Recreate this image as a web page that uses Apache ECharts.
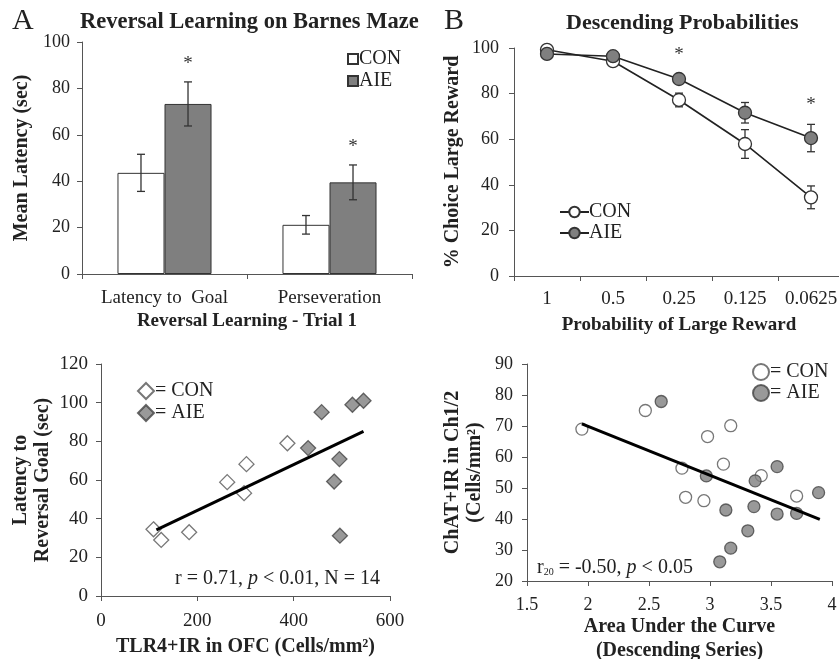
<!DOCTYPE html>
<html>
<head>
<meta charset="utf-8">
<script src="https://cdn.jsdelivr.net/npm/echarts@6/dist/echarts.min.js"></script>
<style>html,body{margin:0;padding:0;background:#fff}#c{width:839px;height:659px}</style>
</head>
<body>
<div id="c"></div>
<script>
// ---- Panel A: bar chart ----
const catsA = ['Latency to  Goal', 'Perseveration'];
const conA = [43.6, 21.2];
const conErrA = [8, 4];
const aieA = [73.3, 39.5];
const aieErrA = [9.5, 7.5];
const starsA = [1, 1];

// ---- Panel B: line chart ----
const catsB = ['1', '0.5', '0.25', '0.125', '0.0625'];
const conB = [99.2, 94.2, 77.2, 57.9, 34.5];
const conErrB = [1, 1.5, 3, 6.3, 5];
const aieB = [97.4, 96.4, 86.4, 71.6, 60.5];
const aieErrB = [1, 1, 2, 4.5, 6];
const starsB = [0, 0, 1, 0, 1];

// ---- Panel C: scatter ----
const conC = [[109, 34.5], [125, 29], [183, 33], [262, 58.9], [302, 68.2], [297, 53.2], [387, 79]];
const aieC = [[430, 76.5], [458, 95.1], [522, 98.9], [545, 101], [495, 70.8], [484, 59.2], [496, 31.2]];
const regC = [[115, 34.2], [545, 85.1]];

// ---- Panel D: scatter ----
const conD = [[1.95, 69], [2.47, 75], [2.98, 66.6], [3.17, 70.1], [2.77, 56.4], [3.11, 57.7], [3.42, 54], [2.80, 47], [2.95, 45.9], [3.71, 47.4]];
const aieD = [[2.60, 77.9], [2.97, 53.9], [3.55, 56.9], [3.37, 52.3], [3.89, 48.5], [3.13, 42.9], [3.36, 44], [3.55, 41.6], [3.71, 41.8], [3.31, 36.2], [3.17, 30.6], [3.08, 26.2]];
const regD = [[1.95, 70.7], [3.90, 39.9]];

const FONT = '"Liberation Serif", "Times New Roman", serif';
const TXT = '#222';
const AX = '#555';
const GRAY = '#7f7f7f';

function axisCommon() {
  return {
    axisLine: { show: true, lineStyle: { color: AX, width: 1 } },
    axisTick: { show: true, length: 5, lineStyle: { color: AX } },
    splitLine: { show: false },
    axisLabel: { color: TXT, fontFamily: FONT, fontSize: 18 },
    nameTextStyle: { color: TXT, fontFamily: FONT, fontSize: 20, fontWeight: 'bold' }
  };
}
function merge(a, b) {
  const o = Object.assign({}, a);
  for (const k in b) {
    if (b[k] && typeof b[k] === 'object' && !Array.isArray(b[k]) && a[k]) o[k] = Object.assign({}, a[k], b[k]);
    else o[k] = b[k];
  }
  return o;
}

function errBar(sideFrac, capHalf, stars, starGap) {
  return function (params, api) {
    const x = api.value(0), y = api.value(1), e = api.value(2);
    const catW = api.size([1, 0])[0];
    const off = sideFrac * catW;
    const top = api.coord([x, y + e]);
    const bot = api.coord([x, y - e]);
    const cx = top[0] + off;
    const st = { stroke: '#333', lineWidth: 1.3 };
    const children = [
      { type: 'line', shape: { x1: cx, y1: top[1], x2: cx, y2: bot[1] }, style: st },
      { type: 'line', shape: { x1: cx - capHalf, y1: top[1], x2: cx + capHalf, y2: top[1] }, style: st },
      { type: 'line', shape: { x1: cx - capHalf, y1: bot[1], x2: cx + capHalf, y2: bot[1] }, style: st }
    ];
    if (stars && stars[params.dataIndex]) {
      children.push({ type: 'text', style: { text: '*', x: cx, y: top[1] - starGap, align: 'center', verticalAlign: 'middle', fontSize: 19, fontFamily: FONT, fill: '#333' } });
    }
    return { type: 'group', children: children };
  };
}

const barFrac = 0.285;
const legendText = { fontFamily: FONT, fontSize: 20, color: TXT };

const option = {
  animation: false,
  backgroundColor: '#fff',
  title: [
    { text: 'A', left: 12, top: 6, padding: 0, textStyle: { fontFamily: FONT, fontSize: 30, fontWeight: 'normal', color: TXT } },
    { text: 'Reversal Learning on Barnes Maze', left: 80, top: 11, padding: 0, textStyle: { fontFamily: FONT, fontSize: 22.5, fontWeight: 'bold', color: TXT } },
    { text: 'B', left: 444, top: 6, padding: 0, textStyle: { fontFamily: FONT, fontSize: 30, fontWeight: 'normal', color: TXT } },
    { text: 'Descending Probabilities', left: 566, top: 12, padding: 0, textStyle: { fontFamily: FONT, fontSize: 22, fontWeight: 'bold', color: TXT } }
  ],
  legend: [
    { data: ['A_CON', 'A_AIE'], orient: 'vertical', left: 347, top: 49, padding: 0, itemWidth: 10, itemHeight: 10, itemGap: 2, icon: 'rect',
      formatter: n => n.split('_')[1], textStyle: Object.assign({ padding: [0, 0, 0, -4] }, legendText), selectedMode: false },
    { data: ['B_CON', 'B_AIE'], orient: 'vertical', left: 559, top: 202, padding: 0, itemWidth: 29, itemHeight: 13, itemGap: 1,
      formatter: n => n.split('_')[1], textStyle: Object.assign({ padding: [0, 0, 0, -5] }, legendText), selectedMode: false },
    { data: ['C_CON', 'C_AIE'], orient: 'vertical', left: 137, top: 381, padding: 0, itemWidth: 16, itemHeight: 16, itemGap: 2,
      formatter: n => '= ' + n.split('_')[1], textStyle: Object.assign({ padding: [0, 0, 0, -4] }, legendText), selectedMode: false },
    { data: ['D_CON', 'D_AIE'], orient: 'vertical', left: 752, top: 362, padding: 0, itemWidth: 16, itemHeight: 16, itemGap: 1,
      formatter: n => '= ' + n.split('_')[1], textStyle: Object.assign({ padding: [0, 0, 0, -4] }, legendText), selectedMode: false }
  ],
  grid: [
    { left: 82, top: 42, width: 330, height: 232, outerBoundsMode: 'none', containLabel: false },
    { left: 514, top: 48, width: 330, height: 228, outerBoundsMode: 'none', containLabel: false },
    { left: 101, top: 364, width: 289, height: 232, outerBoundsMode: 'none', containLabel: false },
    { left: 527, top: 364, width: 305, height: 217, outerBoundsMode: 'none', containLabel: false }
  ],
  xAxis: [
    merge(axisCommon(), { gridIndex: 0, type: 'category', data: catsA, boundaryGap: true,
      axisLabel: { margin: 15, fontSize: 19, interval: 0 }, name: 'Reversal Learning - Trial 1', nameLocation: 'middle', nameGap: 38,
      nameTextStyle: { fontSize: 19 } }),
    merge(axisCommon(), { gridIndex: 1, type: 'category', data: catsB, boundaryGap: true,
      axisLabel: { margin: 14, fontSize: 19, interval: 0 }, name: 'Probability of Large Reward', nameLocation: 'middle', nameGap: 40,
      nameTextStyle: { fontSize: 19 } }),
    merge(axisCommon(), { gridIndex: 2, type: 'value', min: 0, max: 600, interval: 200,
      axisLabel: { margin: 16, fontSize: 19 }, name: 'TLR4+IR in OFC (Cells/mm²)', nameLocation: 'middle', nameGap: 41 }),
    merge(axisCommon(), { gridIndex: 3, type: 'value', min: 1.5, max: 4, interval: 0.5,
      axisLabel: { margin: 15, fontSize: 18 }, name: 'Area Under the Curve\n(Descending Series)', nameLocation: 'middle', nameGap: 30,
      nameTextStyle: { lineHeight: 24, verticalAlign: 'top' } })
  ],
  yAxis: [
    merge(axisCommon(), { gridIndex: 0, type: 'value', min: 0, max: 100, interval: 20,
      axisLabel: { margin: 12, fontSize: 18 }, name: 'Mean Latency (sec)', nameLocation: 'middle', nameGap: 50 }),
    merge(axisCommon(), { gridIndex: 1, type: 'value', min: 0, max: 100, interval: 20,
      axisLabel: { margin: 15, fontSize: 18 }, name: '% Choice Large Reward', nameLocation: 'middle', nameGap: 51 }),
    merge(axisCommon(), { gridIndex: 2, type: 'value', min: 0, max: 120, interval: 20,
      axisLabel: { margin: 13, fontSize: 19 }, name: 'Latency to\nReversal Goal (sec)', nameLocation: 'middle', nameGap: 47,
      nameTextStyle: { lineHeight: 22 } }),
    merge(axisCommon(), { gridIndex: 3, type: 'value', min: 20, max: 90, interval: 10,
      axisLabel: { margin: 14, fontSize: 18 }, name: 'ChAT+IR in Ch1/2\n(Cells/mm²)', nameLocation: 'middle', nameGap: 41,
      nameTextStyle: { lineHeight: 22 } })
  ],
  graphic: [
    { type: 'text', left: 175, top: 569, style: { text: 'r = 0.71, {i|p} < 0.01, N = 14', fontFamily: FONT, fontSize: 20, fill: TXT,
      rich: { i: { fontStyle: 'italic', fontFamily: FONT, fontSize: 20, fill: TXT } } } },
    { type: 'text', left: 537, top: 558, style: { text: 'r{s|20} = -0.50, {i|p} < 0.05', fontFamily: FONT, fontSize: 20, fill: TXT,
      rich: { i: { fontStyle: 'italic', fontFamily: FONT, fontSize: 20, fill: TXT }, s: { fontFamily: FONT, fontSize: 10, fill: TXT, padding: [9, 0, 0, 0] } } } }
  ],
  series: [
    // Panel A
    { name: 'A_CON', type: 'bar', xAxisIndex: 0, yAxisIndex: 0, data: conA, barWidth: (barFrac * 100) + '%', barGap: '0%',
      itemStyle: { color: '#fff', borderColor: '#333', borderWidth: 1 } },
    { name: 'A_AIE', type: 'bar', xAxisIndex: 0, yAxisIndex: 0, data: aieA, barWidth: (barFrac * 100) + '%', barGap: '0%',
      itemStyle: { color: GRAY, borderColor: '#333', borderWidth: 1 } },
    { type: 'custom', xAxisIndex: 0, yAxisIndex: 0, renderItem: errBar(-barFrac / 2, 4, null, 0),
      data: conA.map((v, i) => [i, v, conErrA[i]]), z: 5 },
    { type: 'custom', xAxisIndex: 0, yAxisIndex: 0, renderItem: errBar(barFrac / 2, 4, starsA, 18),
      data: aieA.map((v, i) => [i, v, aieErrA[i]]), z: 5 },
    // Panel B
    { type: 'custom', xAxisIndex: 1, yAxisIndex: 1, renderItem: errBar(0, 4, null, 0),
      data: conB.map((v, i) => [i, v, conErrB[i]]), z: 1 },
    { type: 'custom', xAxisIndex: 1, yAxisIndex: 1, renderItem: errBar(0, 4, starsB, 19),
      data: aieB.map((v, i) => [i, v, aieErrB[i]]), z: 1 },
    { name: 'B_CON', type: 'line', xAxisIndex: 1, yAxisIndex: 1, data: conB, symbol: 'circle', symbolSize: 13, z: 3,
      lineStyle: { color: '#222', width: 1.6 }, itemStyle: { color: '#fff', borderColor: '#333', borderWidth: 1.3 } },
    { name: 'B_AIE', type: 'line', xAxisIndex: 1, yAxisIndex: 1, data: aieB, symbol: 'circle', symbolSize: 13, z: 3,
      lineStyle: { color: '#222', width: 1.6 }, itemStyle: { color: GRAY, borderColor: '#333', borderWidth: 1.3 } },
    // Panel C
    { type: 'line', xAxisIndex: 2, yAxisIndex: 2, data: regC, symbol: 'none', lineStyle: { color: '#000', width: 3 }, z: 4 },
    { name: 'C_CON', type: 'scatter', xAxisIndex: 2, yAxisIndex: 2, data: conC, symbol: 'diamond', symbolSize: 15, z: 3,
      itemStyle: { color: '#fff', borderColor: '#555', borderWidth: 1.3 } },
    { name: 'C_AIE', type: 'scatter', xAxisIndex: 2, yAxisIndex: 2, data: aieC, symbol: 'diamond', symbolSize: 15, z: 3,
      itemStyle: { color: GRAY, borderColor: '#444', borderWidth: 1.3 } },
    // Panel D
    { type: 'line', xAxisIndex: 3, yAxisIndex: 3, data: regD, symbol: 'none', lineStyle: { color: '#000', width: 3 }, z: 4 },
    { name: 'D_CON', type: 'scatter', xAxisIndex: 3, yAxisIndex: 3, data: conD, symbol: 'circle', symbolSize: 12, z: 3,
      itemStyle: { color: '#fff', borderColor: '#555', borderWidth: 1.3 } },
    { name: 'D_AIE', type: 'scatter', xAxisIndex: 3, yAxisIndex: 3, data: aieD, symbol: 'circle', symbolSize: 12, z: 3,
      itemStyle: { color: GRAY, borderColor: '#444', borderWidth: 1.3 } }
  ]
};

const chart = echarts.init(document.getElementById('c'), null, { renderer: 'canvas' });
chart.setOption(option);
</script>
</body>
</html>
